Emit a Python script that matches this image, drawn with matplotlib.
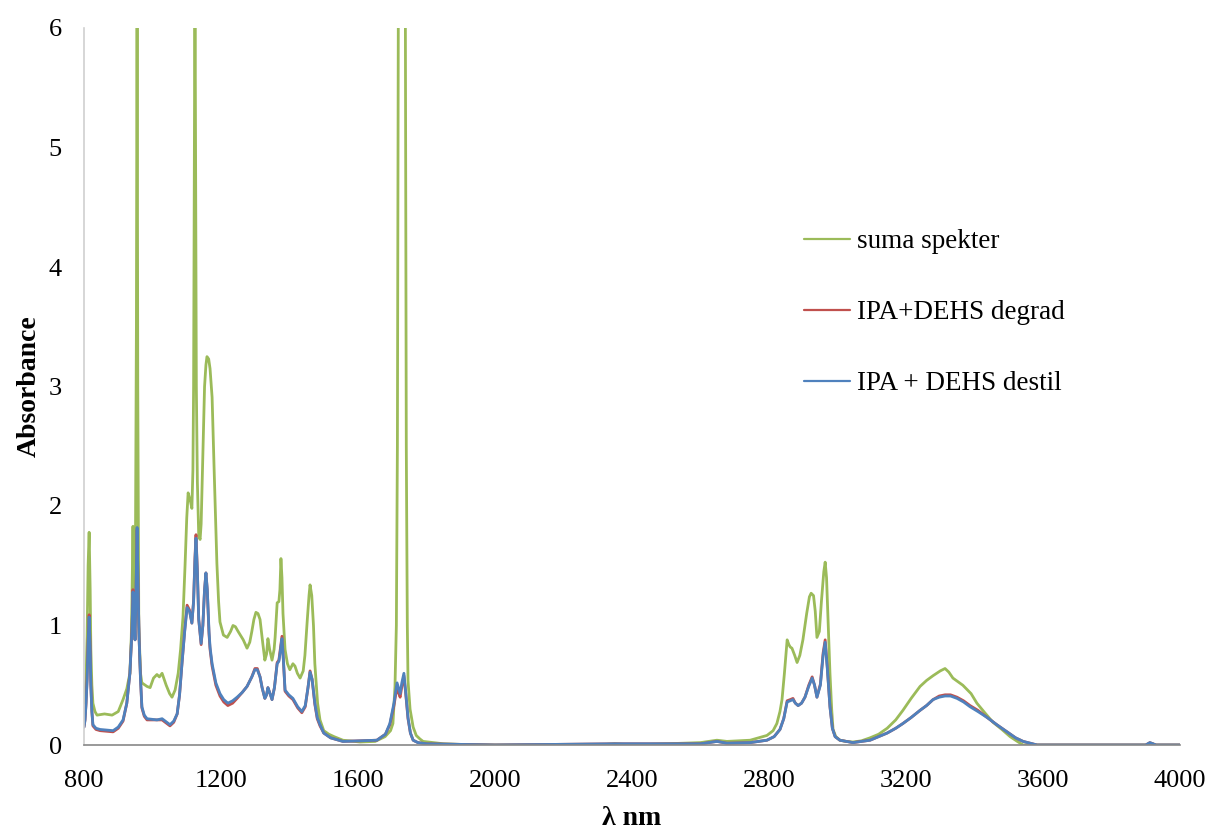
import matplotlib
matplotlib.use("Agg")
import matplotlib.pyplot as plt
import numpy as np

plt.rcParams['font.family'] = ['Liberation Serif', 'DejaVu Serif']

# suma spekter (green)
wl_suma = [800, 806, 809, 812, 815, 818, 820, 823, 826, 832, 838, 860, 882, 900, 914,
           925, 934, 938, 940, 943, 946, 950, 953, 955, 957, 960, 965, 969, 984, 993,
           1003, 1013, 1020, 1028, 1040, 1050, 1057, 1066, 1075, 1082, 1089, 1095, 1100,
           1104, 1110, 1115, 1118, 1120, 1124, 1128, 1131, 1135, 1139, 1142, 1145, 1149,
           1152, 1156, 1159, 1164, 1168, 1174, 1180, 1188, 1193, 1197, 1207, 1218, 1228,
           1235, 1242, 1250, 1265, 1276, 1284, 1290, 1296, 1302, 1308, 1314, 1322, 1328,
           1333, 1337, 1342, 1349, 1355, 1358, 1364, 1369, 1372, 1375, 1378, 1381, 1387,
           1394, 1401, 1410, 1416, 1423, 1431, 1440, 1445, 1452, 1457, 1460, 1465, 1470,
           1474, 1482, 1489, 1500, 1515, 1530, 1556, 1606, 1650, 1679, 1695, 1702, 1708,
           1712, 1715, 1718, 1738, 1741, 1744, 1746, 1752, 1761, 1770, 1781, 1790, 1850,
           1900, 2000, 2300, 2350, 2400, 2600, 2648, 2677, 2745, 2794, 2812, 2823, 2832,
           2838, 2845, 2853, 2858, 2862, 2867, 2875, 2882, 2890, 2899, 2910, 2918, 2923,
           2930, 2935, 2940, 2947, 2953, 2960, 2964, 2968, 2973, 2978, 2983, 2987, 2995,
           3007, 3025, 3045, 3070, 3095, 3120, 3145, 3170, 3191, 3215, 3241, 3260, 3279,
           3300, 3314, 3325, 3337, 3366, 3390, 3407, 3430, 3454, 3480, 3504, 3525, 3542,
           3600, 3900, 3915, 3930, 4000]
a_suma = [0.35, 0.55, 0.90, 1.50, 1.78, 1.30, 0.80, 0.50, 0.35, 0.28, 0.25, 0.26, 0.25,
          0.28, 0.38, 0.47, 0.60, 0.90, 1.20, 1.83, 1.00, 1.50, 3.50, 6.50, 3.00, 1.00,
          0.60, 0.52, 0.49, 0.48, 0.56, 0.59, 0.57, 0.60, 0.50, 0.43, 0.40, 0.46, 0.60,
          0.80, 1.07, 1.50, 1.90, 2.11, 2.05, 1.98, 2.30, 3.00, 6.50, 3.00, 2.20, 1.75,
          1.72, 1.85, 2.20, 2.70, 3.00, 3.18, 3.25, 3.23, 3.15, 2.91, 2.30, 1.52, 1.20,
          1.03, 0.92, 0.90, 0.95, 1.00, 0.99, 0.95, 0.88, 0.81, 0.86, 0.95, 1.05, 1.11,
          1.10, 1.05, 0.85, 0.71, 0.76, 0.89, 0.80, 0.71, 0.80, 0.90, 1.19, 1.20, 1.30,
          1.56, 1.40, 1.10, 0.80, 0.68, 0.63, 0.68, 0.66, 0.60, 0.56, 0.62, 0.75, 1.05,
          1.25, 1.34, 1.25, 1.00, 0.68, 0.35, 0.21, 0.12, 0.09, 0.07, 0.04, 0.025, 0.03,
          0.07, 0.12, 0.18, 0.49, 1.00, 2.50, 6.50, 6.50, 2.50, 1.00, 0.54, 0.30, 0.15,
          0.08, 0.05, 0.03, 0.01, 0.005, 0.0, 0.0, 0.01, 0.0, 0.02, 0.04, 0.03, 0.04,
          0.08, 0.12, 0.18, 0.28, 0.38, 0.60, 0.88, 0.84, 0.82, 0.81, 0.75, 0.69, 0.75,
          0.88, 1.10, 1.24, 1.27, 1.25, 1.12, 0.90, 0.95, 1.20, 1.45, 1.53, 1.40, 1.00,
          0.60, 0.30, 0.13, 0.07, 0.04, 0.03, 0.025, 0.035, 0.06, 0.09, 0.14, 0.21, 0.29,
          0.39, 0.49, 0.54, 0.58, 0.62, 0.64, 0.61, 0.56, 0.50, 0.43, 0.35, 0.27, 0.19,
          0.13, 0.07, 0.03, 0.0, 0.0, 0.0, 0.015, 0.0, 0.0]

# IPA+DEHS degrad (red) and IPA + DEHS destil (blue) share one wavelength grid
wl_ipa = [800, 803, 806, 809, 812, 815, 818, 820, 823, 826, 835, 847, 885, 900, 914, 925,
          934, 940, 943, 946, 949, 952, 955, 958, 961, 965, 969, 976, 984, 1013, 1028,
          1051, 1062, 1072, 1079, 1086, 1094, 1101, 1108, 1115, 1120, 1124, 1127, 1131,
          1135, 1142, 1147, 1152, 1156, 1160, 1165, 1168, 1174, 1185, 1197, 1208, 1220,
          1234, 1247, 1262, 1276, 1290, 1299, 1306, 1314, 1320, 1328, 1333, 1337, 1342,
          1349, 1356, 1364, 1369, 1373, 1378, 1382, 1387, 1398, 1410, 1424, 1436, 1446,
          1454, 1460, 1466, 1474, 1481, 1489, 1500, 1520, 1556, 1655, 1680, 1693, 1705,
          1714, 1718, 1723, 1728, 1734, 1739, 1746, 1753, 1761, 1775, 1800, 2000, 2350,
          2600, 2648, 2677, 2745, 2794, 2815, 2832, 2843, 2853, 2862, 2870, 2877, 2885,
          2895, 2905, 2916, 2926, 2933, 2940, 2950, 2958, 2964, 2970, 2978, 2985, 2993,
          3007, 3045, 3095, 3120, 3145, 3170, 3191, 3215, 3241, 3260, 3279, 3297, 3314,
          3330, 3349, 3368, 3387, 3410, 3437, 3465, 3495, 3520, 3542, 3583, 3900, 3912,
          3930, 4000]
a_destil = [0.15, 0.21, 0.35, 0.54, 0.85, 1.07, 0.80, 0.50, 0.28, 0.17, 0.14, 0.13, 0.12,
            0.15, 0.21, 0.35, 0.60, 0.95, 1.28, 1.10, 0.88, 1.30, 1.82, 1.30, 0.88, 0.55,
            0.32, 0.25, 0.22, 0.21, 0.22, 0.17, 0.20, 0.26, 0.42, 0.68, 0.95, 1.15, 1.12,
            1.02, 1.20, 1.55, 1.73, 1.45, 1.05, 0.85, 1.00, 1.30, 1.44, 1.30, 0.95, 0.82,
            0.68, 0.52, 0.43, 0.38, 0.35, 0.37, 0.40, 0.44, 0.49, 0.57, 0.63, 0.63, 0.57,
            0.48, 0.39, 0.42, 0.48, 0.44, 0.38, 0.48, 0.68, 0.70, 0.78, 0.89, 0.72, 0.46,
            0.42, 0.39, 0.32, 0.28, 0.33, 0.48, 0.61, 0.55, 0.35, 0.23, 0.17, 0.10, 0.06,
            0.03, 0.04, 0.09, 0.18, 0.35, 0.52, 0.48, 0.43, 0.52, 0.60, 0.45, 0.23, 0.10,
            0.04, 0.02, 0.01, 0.0, 0.01, 0.01, 0.03, 0.015, 0.02, 0.04, 0.07, 0.13, 0.22,
            0.36, 0.37, 0.38, 0.35, 0.33, 0.35, 0.40, 0.49, 0.56, 0.50, 0.40, 0.50, 0.75,
            0.86, 0.65, 0.32, 0.14, 0.07, 0.04, 0.02, 0.04, 0.07, 0.10, 0.14, 0.18, 0.23,
            0.29, 0.33, 0.38, 0.40, 0.41, 0.41, 0.39, 0.36, 0.32, 0.28, 0.23, 0.17, 0.11,
            0.06, 0.03, 0.0, 0.0, 0.02, 0.0, 0.0]
a_degrad = [0.15, 0.21, 0.35, 0.55, 0.87, 1.09, 0.81, 0.50, 0.28, 0.16, 0.13, 0.12, 0.11,
            0.14, 0.20, 0.35, 0.60, 0.96, 1.30, 1.11, 0.88, 1.30, 1.80, 1.30, 0.88, 0.55,
            0.31, 0.24, 0.21, 0.21, 0.21, 0.16, 0.19, 0.26, 0.42, 0.68, 0.96, 1.17, 1.13,
            1.02, 1.21, 1.57, 1.76, 1.46, 1.05, 0.84, 1.00, 1.30, 1.44, 1.29, 0.93, 0.80,
            0.66, 0.50, 0.41, 0.36, 0.33, 0.35, 0.39, 0.44, 0.49, 0.57, 0.64, 0.64, 0.57,
            0.48, 0.39, 0.42, 0.48, 0.44, 0.38, 0.48, 0.69, 0.71, 0.80, 0.91, 0.72, 0.45,
            0.41, 0.38, 0.31, 0.27, 0.32, 0.48, 0.62, 0.55, 0.34, 0.22, 0.16, 0.10, 0.06,
            0.03, 0.04, 0.09, 0.17, 0.33, 0.49, 0.44, 0.40, 0.49, 0.58, 0.44, 0.22, 0.10,
            0.04, 0.02, 0.01, 0.0, 0.01, 0.01, 0.03, 0.015, 0.02, 0.04, 0.07, 0.13, 0.22,
            0.37, 0.38, 0.39, 0.35, 0.33, 0.35, 0.40, 0.50, 0.57, 0.50, 0.40, 0.51, 0.77,
            0.88, 0.66, 0.32, 0.14, 0.07, 0.04, 0.02, 0.04, 0.07, 0.10, 0.14, 0.18, 0.23,
            0.29, 0.33, 0.38, 0.41, 0.42, 0.42, 0.40, 0.37, 0.33, 0.29, 0.23, 0.17, 0.11,
            0.06, 0.03, 0.0, 0.0, 0.02, 0.0, 0.0]

x_ticks = [800, 1200, 1600, 2000, 2400, 2800, 3200, 3600, 4000]
y_ticks = [0, 1, 2, 3, 4, 5, 6]

fig = plt.figure(figsize=(12.1, 8.33), dpi=100)
ax = fig.add_axes([84/1210, 88/833, (1180-84)/1210, (745-28)/833])

line_kw = dict(lw=2.0, solid_joinstyle='round', solid_capstyle='round')
ax.plot(wl_suma, a_suma, color='#9BBB59', label='suma spekter', **line_kw)
ax.plot(wl_ipa, a_degrad, color='#C0504D', label='IPA+DEHS degrad', **line_kw)
ax.plot(wl_ipa, a_destil, color='#4F81BD', label='IPA + DEHS destil', **line_kw)

ax.set_xlim(800, 4000)
ax.set_ylim(0, 6)
ax.set_xticks(x_ticks)
ax.set_yticks(y_ticks)
ax.tick_params(axis='both', length=0, labelsize=19)
ax.tick_params(axis='x', pad=18)
ax.tick_params(axis='y', pad=16)

for s in ['top', 'right']:
    ax.spines[s].set_visible(False)
ax.spines['left'].set_color('#D0D0D0')
ax.spines['bottom'].set_color('#888888')
ax.spines['left'].set_linewidth(1.2)
ax.spines['bottom'].set_linewidth(1.2)

ax.set_xlabel('λ nm', fontsize=20, fontweight='bold', labelpad=10)
ax.set_ylabel('Absorbance', fontsize=20, fontweight='bold', labelpad=5)

leg = ax.legend(loc='upper left', bbox_to_anchor=(804/1210, 1 - 229/833),
                bbox_transform=fig.transFigure, frameon=False, fontsize=19.5,
                handlelength=1.7, handletextpad=0.25, labelspacing=1.7,
                borderpad=0, borderaxespad=0)
for h in leg.get_lines():
    h.set_linewidth(1.6)

fig.savefig('out.png', dpi=100)
